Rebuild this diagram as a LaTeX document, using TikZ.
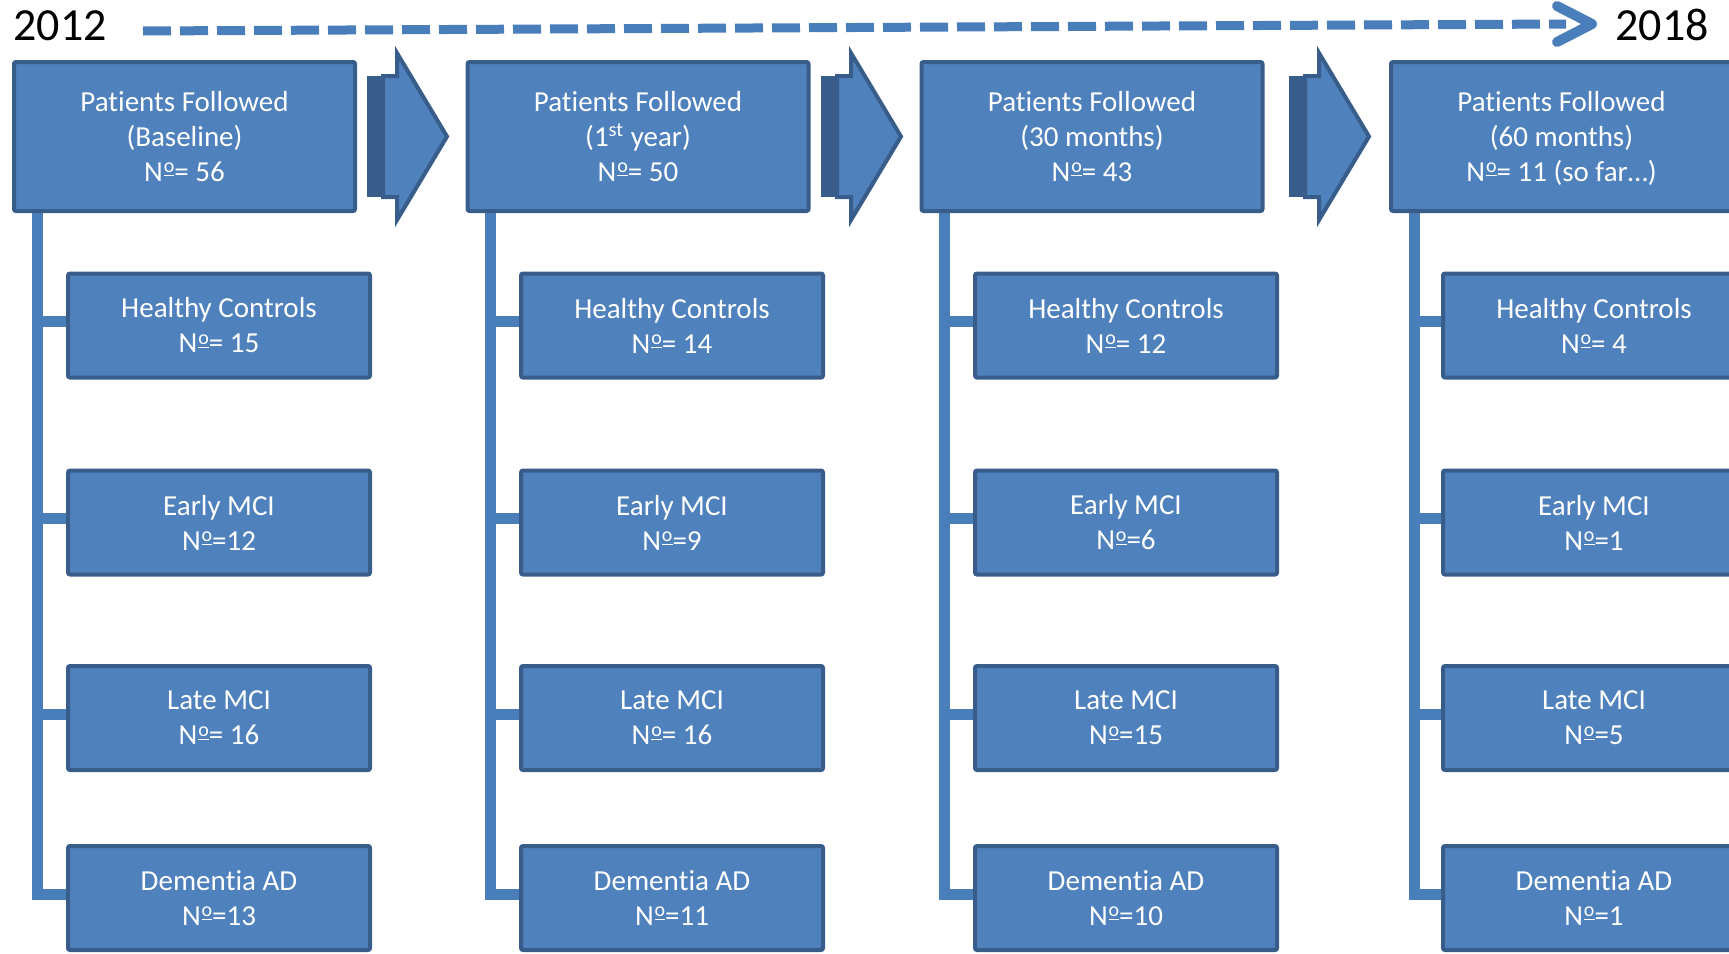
\documentclass[tikz,border=0pt]{standalone}
\usepackage{fontspec}
\setmainfont{Carlito}[Ligatures=TeX, RawFeature={-liga;-clig;-calt;-dlig}]
\usetikzlibrary{backgrounds}
\definecolor{boxfill}{HTML}{4F81BD}
\definecolor{boxline}{HTML}{385D8A}
\definecolor{conncol}{HTML}{4A7EBB}
\newcommand\nro{N\kern0.03em\raisebox{0.3em}{\fontsize{10}{10}\selectfont\underline{o}}}
\newcommand\Pat{Pat\kern0pt ients Followed}
\tikzset{
  topbox/.style={draw=boxline, fill=boxfill, line width=2pt, rounded corners=1pt,
    minimum width=170.5pt, minimum height=74.5pt, inner sep=0pt, align=center,
    text=white, font=\fontsize{14.5}{17.5}\selectfont},
  childbox/.style={topbox, minimum width=151pt, minimum height=52pt},
  conn/.style={draw=conncol, line width=5.5pt, line join=miter},
  blockarrow/.style={fill=boxfill, draw=boxline, line width=2pt, line join=miter},
  yearlabel/.style={font=\fontsize{23}{27}\selectfont, text=black, inner sep=0pt, anchor=base west},
  timeline/.style={draw=conncol, line width=4.5pt, dash pattern=on 14pt off 4.5pt},
  chevron/.style={draw=conncol, line width=5pt, line cap=round, line join=round},
}
\newcommand\blockarr[1]{%
  \fill[boxline] (#1,76) rectangle ({#1+18},197);
  \path[blockarrow] ({#1+16},76) -- ({#1+30},76) -- ({#1+30},53) -- ({#1+80},136.5)
    -- ({#1+30},220) -- ({#1+30},197) -- ({#1+16},197) -- cycle;
}
\begin{document}
\begin{tikzpicture}[x=0.5pt,y=-0.5pt]
\useasboundingbox (0,0) rectangle (1729,953);
\clip (0,0) rectangle (1729,953);

% year labels and timeline
\node[yearlabel] (y2012) at (13,40) {2012};
\node[yearlabel] (y2018) at (1615,40) {2018};
\coordinate (tlstart) at (143,31);
\coordinate (tlend) at (1566,24);
\coordinate (tltip) at (1592,24);
\draw[timeline] (tlstart) -- (tlend);
\draw[chevron] ([shift={(-35,-18)}]tltip) -- (tltip) -- ([shift={(-35,18)}]tltip);

% top boxes
\node[topbox] (t1) at (184.5,136.5) {\Pat\\(Baseline)\\\nro= 56};
\node[topbox] (t2) at (638,136.5) {\Pat\\(1\textsuperscript{st} year)\\\nro= 50};
\node[topbox] (t3) at (1092,136.5) {\Pat\\(30 months)\\\nro= 43};
\node[topbox] (t4) at (1561.5,136.5) {\Pat\\(60 months)\\\raisebox{0pt}[\height][0pt]{\nro= 11 (so far…)}};

% block arrows
\blockarr{367}
\blockarr{821}
\blockarr{1289}

% child boxes column 1
\node[childbox] (h1) at (219,325.5) {Healthy Controls\\\nro= 15};
\node[childbox] (e1) at (219,522.5) {Early MCI\\\nro=12};
\node[childbox] (l1) at (219,718) {Late MCI\\\nro= 16};
\node[childbox] (d1) at (219,898) {Demen\kern0pt tia AD\\\nro=13};
% column 2
\node[childbox] (h2) at (672,325.5) {Healthy Controls\\\nro= 14};
\node[childbox] (e2) at (672,522.5) {Early MCI\\\nro=9};
\node[childbox] (l2) at (672,718) {Late MCI\\\nro= 16};
\node[childbox] (d2) at (672,898) {Demen\kern0pt tia AD\\\nro=11};
% column 3
\node[childbox] (h3) at (1126,325.5) {Healthy Controls\\\nro= 12};
\node[childbox] (e3) at (1126,522.5) {Early MCI\\\nro=6};
\node[childbox] (l3) at (1126,718) {Late MCI\\\nro=15};
\node[childbox] (d3) at (1126,898) {Demen\kern0pt tia AD\\\nro=10};
% column 4
\node[childbox] (h4) at (1594,325.5) {Healthy Controls\\\nro= 4};
\node[childbox] (e4) at (1594,522.5) {Early MCI\\\nro=1};
\node[childbox] (l4) at (1594,718) {Late MCI\\\nro=5};
\node[childbox] (d4) at (1594,898) {Demen\kern0pt tia AD\\\nro=1};

% connectors
\begin{scope}[on background layer]
\foreach \c in {1,2,3,4}{
  \coordinate (r\c) at ([xshift=12.5pt]t\c.south west);
  \draw[conn] (r\c) |- ([yshift=2pt]d\c.west);
  \draw[conn] (r\c) |- ([yshift=2pt]l\c.west);
  \draw[conn] (r\c) |- ([yshift=2pt]e\c.west);
  \draw[conn] (r\c) |- ([yshift=2pt]h\c.west);
}
\end{scope}
\end{tikzpicture}
\end{document}
